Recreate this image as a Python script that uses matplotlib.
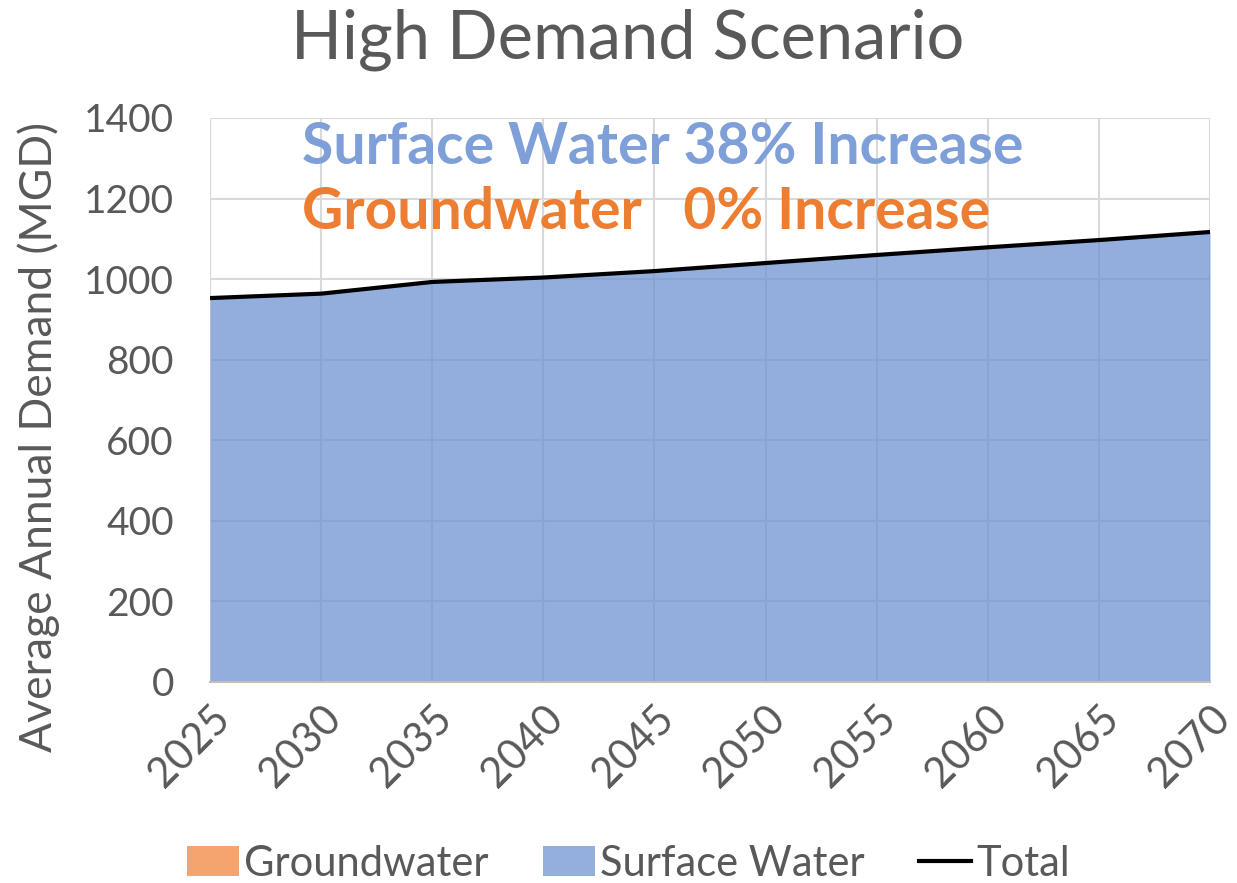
import matplotlib.pyplot as plt
from matplotlib.patches import Patch
from matplotlib.lines import Line2D

years = [2025, 2030, 2035, 2040, 2045, 2050, 2055, 2060, 2065, 2070]
groundwater = [0, 0, 0, 0, 0, 0, 0, 0, 0, 0]
surface_water = [953, 964, 993, 1004, 1020, 1040, 1060, 1079, 1097, 1117]
total = [g + s for g, s in zip(groundwater, surface_water)]

yticks = [0, 200, 400, 600, 800, 1000, 1200, 1400]

plt.rcParams["font.family"] = ["Lato", "DejaVu Sans"]

text_gray = "#595959"
blue = (110 / 255, 146 / 255, 210 / 255)
orange = "#F4A46C"

fig = plt.figure(figsize=(12.37, 8.83), dpi=100)
ax = fig.add_axes([210 / 1237, 201 / 883, 1000 / 1237, 564 / 883])

# stacked areas
ax.fill_between(years, 0, groundwater, color=orange, linewidth=0)
ax.fill_between(years, groundwater, total, color=blue, alpha=0.74, linewidth=0)
ax.plot(years, total, color="black", linewidth=3)

ax.set_xlim(years[0], years[-1])
ax.set_ylim(0, 1400)
ax.set_xticks(years)
ax.set_yticks(yticks)
ax.set_xticklabels([str(y) for y in years], rotation=45, ha="right",
                   rotation_mode="anchor", fontsize=30, color=text_gray)
ax.set_yticklabels([str(v) for v in yticks], fontsize=28, color=text_gray)
ax.tick_params(axis="y", length=0, pad=26)
ax.tick_params(axis="x", length=0, pad=12)

ax.grid(True, color="#D9D9D9", linewidth=1.5)
ax.set_axisbelow(True)
for side in ["top", "right", "left"]:
    ax.spines[side].set_visible(False)
ax.spines["bottom"].set_color("#BFBFBF")
ax.spines["bottom"].set_linewidth(1.5)

ax.set_ylabel("Average Annual Demand (MGD)", fontsize=32, color=text_gray)
ax.yaxis.set_label_coords(-0.15, 0.434)
fig.text(0.507, 0.955, "High Demand Scenario", ha="center", va="center",
         fontsize=48, color=text_gray)

ax.text(0.092, 0.947, "Surface Water 38% Increase", transform=ax.transAxes,
        ha="left", va="center", fontsize=41, fontweight="bold", color="#7F9FD8")
ax.text(0.092, 0.833, "Groundwater   0% Increase", transform=ax.transAxes,
        ha="left", va="center", fontsize=41, fontweight="bold", color="#ED7D31")

handles = [
    Patch(facecolor=orange, edgecolor="none", label="Groundwater"),
    Patch(facecolor="#94AEDE", edgecolor="none", label="Surface Water"),
    Line2D([0], [0], color="black", linewidth=3, label="Total"),
]
leg = fig.legend(handles=handles, loc="center", bbox_to_anchor=(0.508, 0.022), ncol=3,
                 frameon=False, fontsize=30, handlelength=1.25, handletextpad=0.12,
                 columnspacing=1.3)
for t in leg.get_texts():
    t.set_color(text_gray)

fig.savefig("out.png", dpi=100)
